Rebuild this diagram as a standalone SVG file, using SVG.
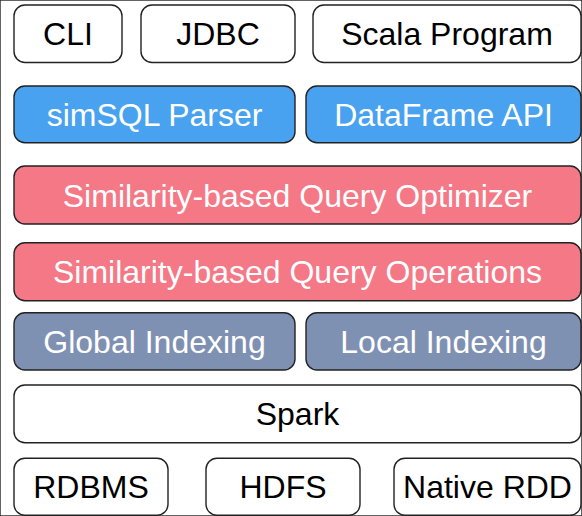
<svg xmlns="http://www.w3.org/2000/svg" width="582" height="516" viewBox="0 0 582 516">
<style>
rect{stroke:#222;stroke-width:1.4}
.w{fill:#fff}.b{fill:#48a2ef}.r{fill:#f57886}.s{fill:#7f91b3}
text{font-family:"Liberation Sans",Arial,Helvetica,sans-serif;font-size:32px;text-anchor:middle}
.dk{fill:#000}.lt{fill:#fff}
</style>
<rect width="582" height="516" fill="#fff" stroke="none"/>
<g id="cli"><rect class="w" x="14" y="5" width="108" height="57.5" rx="11"/><text class="dk" x="68" y="45.3">CLI</text></g>
<g id="jdbc"><rect class="w" x="141" y="5" width="154" height="57.5" rx="11"/><text class="dk" x="218" y="45.3">JDBC</text></g>
<g id="scala"><rect class="w" x="313" y="5" width="268" height="57.5" rx="11"/><text class="dk" x="447" y="45.3">Scala Program</text></g>
<g id="simsql"><rect class="b" x="14" y="86" width="281" height="56.7" rx="11"/><text class="lt" x="154.5" y="125.8">simSQL Parser</text></g>
<g id="dataframe"><rect class="b" x="306" y="86" width="275" height="56.7" rx="11"/><text class="lt" x="443.5" y="125.8">DataFrame API</text></g>
<g id="optimizer"><rect class="r" x="14" y="166" width="567" height="58" rx="11"/><text class="lt" x="297.5" y="206.5">Similarity-based Query Optimizer</text></g>
<g id="operations"><rect class="r" x="14" y="242.7" width="567" height="58" rx="11"/><text class="lt" x="297.5" y="283.2">Similarity-based Query Operations</text></g>
<g id="global"><rect class="s" x="14" y="312.7" width="281" height="57.3" rx="11"/><text class="lt" x="154.5" y="352.8">Global Indexing</text></g>
<g id="local"><rect class="s" x="306" y="312.7" width="275" height="57.3" rx="11"/><text class="lt" x="443.5" y="352.8">Local Indexing</text></g>
<g id="spark"><rect class="w" x="14" y="385" width="567" height="57.7" rx="11"/><text class="dk" x="297.5" y="425.3">Spark</text></g>
<g id="rdbms"><rect class="w" x="14" y="458.3" width="154" height="57" rx="11"/><text class="dk" x="91" y="498.3">RDBMS</text></g>
<g id="hdfs"><rect class="w" x="206" y="458.3" width="154" height="57" rx="11"/><text class="dk" x="283" y="498.3">HDFS</text></g>
<g id="nativerdd"><rect class="w" x="394" y="458.3" width="187" height="57" rx="11"/><text class="dk" x="487.5" y="498.3">Native RDD</text></g>
<g id="connectors"/>
</svg>
